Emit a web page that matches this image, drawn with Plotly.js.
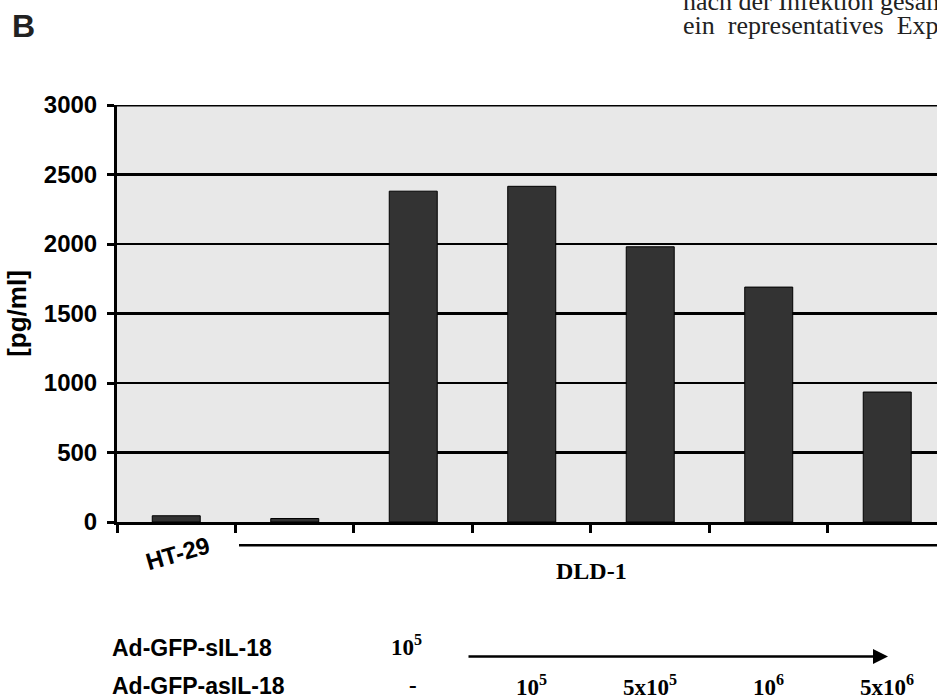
<!DOCTYPE html>
<html>
<head>
<meta charset="utf-8">
<script src="https://cdn.plot.ly/plotly-3.0.1.min.js"></script>
<style>html,body{margin:0;padding:0;background:#fff;overflow:hidden;}</style>
</head>
<body>
<div id="chart" style="width:937px;height:699px;"></div>
<script>
// ---- data ----
const categories = ['HT-29', 'DLD-1', 'DLD-1 sIL18', 'DLD-1 asIL18 1e5', 'DLD-1 asIL18 5e5', 'DLD-1 asIL18 1e6', 'DLD-1 asIL18 5e6'];
const values = [45, 25, 2380, 2415, 1980, 1690, 935];
const yTicks = [0, 500, 1000, 1500, 2000, 2500, 3000];
const asLabels = ['-', '10<sup>5</sup>', '5x10<sup>5</sup>', '10<sup>6</sup>', '5x10<sup>6</sup>'];
const asCats = categories.slice(2);
const sLabel = '10<sup>5</sup>';

// ---- layout helpers (pixel -> paper) ----
const W = 937, H = 699;
const L = 117, R = 0, T = 105, B = 177.3;
const PW = W - L - R, PH = H - T - B;
const px = x => (x - L) / PW;
const py = y => (H - B - y) / PH;

const SANS = 'Liberation Sans, Arial, sans-serif';
const SERIF = 'Liberation Serif, Times New Roman, serif';

const trace = {
  type: 'bar',
  x: categories,
  y: values,
  width: 0.405,
  marker: {color: '#333333', line: {color: '#000000', width: 1}},
  hoverinfo: 'skip'
};

function ann(text, x, y, opts) {
  return Object.assign({text: text, xref: 'paper', yref: 'paper', x: x, y: y, xanchor: 'center', yanchor: 'middle',
    showarrow: false}, opts);
}

const annotations = [
  ann('B', px(10), py(26), {xanchor: 'left', font: {family: SANS, size: 32, color: '#222', weight: 'bold'}}),
  ann('nach der Infektion gesammelt.', px(681), py(2), {xanchor: 'left', font: {family: SERIF, size: 26, color: '#222', weight: 'normal'}}),
  ann('ein  representatives  Experiment', px(681), py(26), {xanchor: 'left', font: {family: SERIF, size: 26, color: '#222', weight: 'normal'}}),
  ann('HT-29', px(177), py(553), {textangle: -16, font: {family: SANS, size: 24, color: '#000', weight: 'bold'}}),
  ann('DLD-1', px(591), py(571), {font: {family: SERIF, size: 24, color: '#000', weight: 'bold'}}),
  ann('Ad-GFP-sIL-18', px(110), py(648), {xanchor: 'left', font: {family: SANS, size: 23, color: '#000', weight: 'bold'}}),
  ann('Ad-GFP-asIL-18', px(110), py(686), {xanchor: 'left', font: {family: SANS, size: 23, color: '#000', weight: 'bold'}}),
  {text: sLabel, xref: 'x', yref: 'paper', x: categories[2], y: py(645), xanchor: 'center', yanchor: 'middle', xshift: -7,
   showarrow: false, font: {family: SERIF, size: 23, color: '#000', weight: 'bold'}},
  {text: '', xref: 'paper', yref: 'paper', x: px(888), y: py(656), ax: -421, ay: 0,
   showarrow: true, arrowhead: 2, arrowsize: 1.2, arrowwidth: 2.5, arrowcolor: '#000'}
];
asLabels.forEach((t, i) => {
  annotations.push({text: t, xref: 'x', yref: 'paper', x: asCats[i], y: py(685), xanchor: 'center', yanchor: 'middle',
    showarrow: false, font: {family: SERIF, size: 23, color: '#000', weight: 'bold'}});
});

const shapes = [
  {type: 'line', xref: 'paper', yref: 'y', x0: 0, x1: 1, y0: 3000, y1: 3000, line: {color: '#000', width: 3}, layer: 'above'},
  {type: 'line', xref: 'paper', yref: 'paper', x0: px(239), x1: px(940), y0: py(545), y1: py(545), line: {color: '#000', width: 2.5}}
];

const layout = {
  width: W, height: H,
  margin: {l: L, r: R, t: T, b: B, pad: 0},
  paper_bgcolor: '#ffffff',
  plot_bgcolor: '#e8e8e8',
  showlegend: false,
  bargap: 0,
  xaxis: {
    type: 'category',
    range: [-0.5, 6.42],
    showticklabels: false,
    ticks: 'outside', tickson: 'boundaries', ticklen: 8, tickwidth: 3, tickcolor: '#000',
    showline: true, linecolor: '#000', linewidth: 3,
    showgrid: false, zeroline: false, fixedrange: true
  },
  yaxis: {
    range: [0, 3000],
    tickvals: yTicks,
    ticktext: yTicks.map(String),
    ticks: 'outside', ticklen: 7, tickwidth: 3, tickcolor: '#000',
    ticklabelstandoff: 5,
    showline: true, linecolor: '#000', linewidth: 3,
    showgrid: true, gridcolor: '#000', gridwidth: 2.2,
    zeroline: false,
    tickfont: {family: SANS, size: 24, color: '#000', weight: 'bold'},
    title: {text: '[pg/ml]', font: {family: SANS, size: 26, color: '#000', weight: 'bold'}, standoff: 10},
    fixedrange: true
  },
  font: {family: SANS, color: '#000'},
  annotations: annotations,
  shapes: shapes
};

Plotly.newPlot('chart', [trace], layout, {displayModeBar: false, staticPlot: true});
</script>
</body>
</html>
